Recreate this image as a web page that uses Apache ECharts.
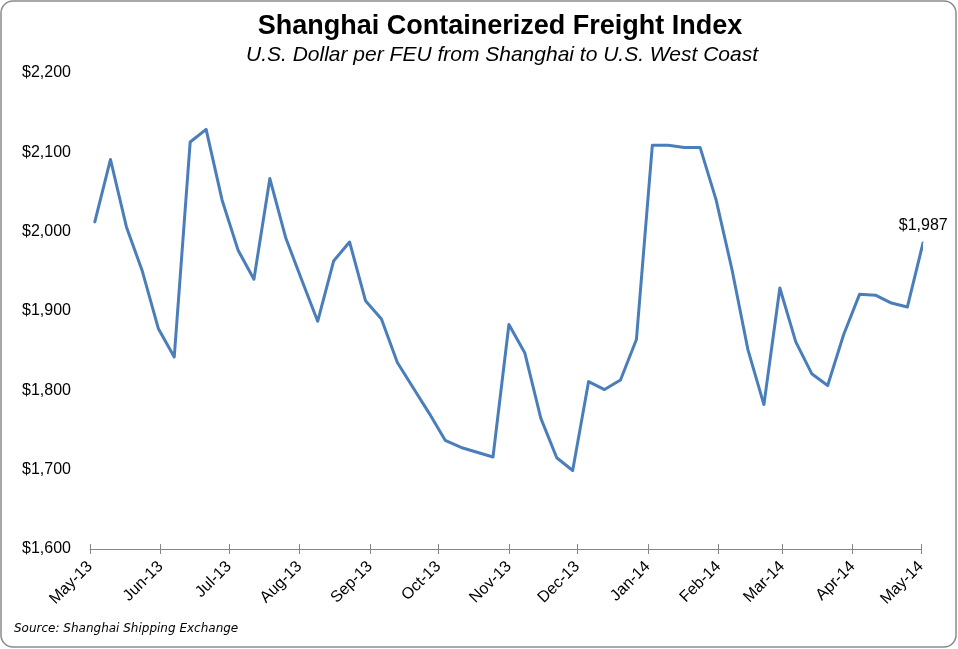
<!DOCTYPE html>
<html>
<head>
<meta charset="utf-8">
<script src="https://cdn.jsdelivr.net/npm/echarts@6/dist/echarts.min.js"></script>
<style>
html,body{margin:0;padding:0;background:#fff;}
#chart{width:958px;height:649px;}
</style>
</head>
<body>
<div id="chart"></div>
<script>
// Weekly observation dates (Fridays)
var dates = [
  '2013-05-03','2013-05-10','2013-05-17','2013-05-24','2013-05-31',
  '2013-06-07','2013-06-14','2013-06-21','2013-06-28',
  '2013-07-05','2013-07-12','2013-07-19','2013-07-26',
  '2013-08-02','2013-08-09','2013-08-16','2013-08-23','2013-08-30',
  '2013-09-06','2013-09-13','2013-09-20','2013-09-27',
  '2013-10-04','2013-10-11','2013-10-18','2013-10-25',
  '2013-11-01','2013-11-08','2013-11-15','2013-11-22','2013-11-29',
  '2013-12-06','2013-12-13','2013-12-20','2013-12-27',
  '2014-01-03','2014-01-10','2014-01-17','2014-01-24','2014-01-31',
  '2014-02-07','2014-02-14','2014-02-21','2014-02-28',
  '2014-03-07','2014-03-14','2014-03-21','2014-03-28',
  '2014-04-04','2014-04-11','2014-04-18','2014-04-25',
  '2014-05-02'
];
// SCFI, USD per FEU Shanghai -> US West Coast
var values = [
  2011, 2091, 2006, 1950, 1878,
  1842, 2113, 2129, 2040,
  1977, 1940, 2067, 1992,
  1939, 1887, 1963, 1987, 1913,
  1890, 1835, 1803, 1771,
  1737, 1728, 1722, 1716,
  1883, 1847, 1765, 1715, 1699,
  1811, 1801, 1813, 1864,
  2109, 2109, 2106, 2106, 2040,
  1952, 1851, 1782, 1929,
  1861, 1821, 1806, 1870,
  1921, 1920, 1910, 1905,
  1987
];
var monthNames = ['Jan','Feb','Mar','Apr','May','Jun','Jul','Aug','Sep','Oct','Nov','Dec'];
var axisStart = '2013-05-01';
var axisEnd = '2014-05-01';
var yMin = 1600, yMax = 2200, yStep = 100;
var titleText = 'Shanghai Containerized Freight Index';
var subtitleText = 'U.S. Dollar per FEU from Shanghai to U.S. West Coast';
var sourceText = 'Source: Shanghai Shipping Exchange';

function toTime(s){ var p = s.split('-'); return new Date(+p[0], +p[1]-1, +p[2]).getTime(); }
function money(v){ return '$' + Number(v).toLocaleString('en-US'); }

var FONT = 'Liberation Sans';
var seriesData = dates.map(function(d, i){
  var item = { value: [toTime(d), values[i]] };
  if (i === dates.length - 1) {
    item.label = { show: true, position: 'top', distance: 8, formatter: money(values[i]),
      fontFamily: FONT, fontSize: 16, color: '#000' };
  }
  return item;
});

var MONTH = 30 * 86400000;
function timeAxis(extra){
  var base = {
    type: 'time', gridIndex: 0, position: 'bottom',
    min: toTime(axisStart), max: toTime(axisEnd),
    minInterval: MONTH, maxInterval: MONTH,
    splitLine: { show: false }
  };
  for (var k in extra) base[k] = extra[k];
  return base;
}

var chart = echarts.init(document.getElementById('chart'), null, { renderer: 'canvas' });
chart.setOption({
  animation: false,
  backgroundColor: '#fff',
  grid: { left: 90, right: 37, top: 73, bottom: 100, containLabel: false },
  xAxis: [
    timeAxis({
      axisLine: { show: true, lineStyle: { color: '#868686', width: 1 } },
      axisTick: { show: true, length: 5, lineStyle: { color: '#868686' } },
      axisLabel: {
        show: true, rotate: 45, margin: 15,
        fontFamily: FONT, fontSize: 16, color: '#000',
        showMinLabel: true, showMaxLabel: true, hideOverlap: false,
        formatter: function(v){
          var d = new Date(v);
          return monthNames[d.getMonth()] + '-' + String(d.getFullYear()).slice(2);
        }
      }
    }),
    timeAxis({
      axisLine: { show: false },
      axisTick: { show: true, inside: true, length: 5, lineStyle: { color: '#868686' } },
      axisLabel: { show: false }
    })
  ],
  yAxis: {
    type: 'value', min: yMin, max: yMax, interval: yStep,
    axisLine: { show: false }, axisTick: { show: false },
    splitLine: { show: false },
    axisLabel: { margin: 19, fontFamily: FONT, fontSize: 16, color: '#000',
      formatter: function(v){ return money(v); } }
  },
  series: [{
    type: 'line', xAxisIndex: 0, yAxisIndex: 0,
    data: seriesData,
    showSymbol: true, symbol: 'circle', symbolSize: 1,
    lineStyle: { color: '#4A7EBB', width: 3, join: 'round' },
    itemStyle: { color: '#4A7EBB' },
    clip: false
  }],
  graphic: [
    { type: 'rect', silent: true, z: -1,
      shape: { x: 1, y: 1, width: 955, height: 646, r: 12 },
      style: { fill: 'none', stroke: '#8a8a8a', lineWidth: 1.5 } },
    { type: 'text', x: 500, y: 27,
      style: { text: titleText, fontFamily: FONT, fontWeight: 'bold', fontSize: 27,
        fill: '#000', textAlign: 'center', textVerticalAlign: 'middle' } },
    { type: 'text', x: 502, y: 55,
      style: { text: subtitleText, fontFamily: FONT, fontStyle: 'italic', fontSize: 21,
        fill: '#000', textAlign: 'center', textVerticalAlign: 'middle' } },
    { type: 'text', x: 14, y: 629,
      style: { text: sourceText, fontFamily: 'DejaVu Sans', fontStyle: 'italic', fontSize: 12,
        fill: '#000', textAlign: 'left', textVerticalAlign: 'middle' } }
  ]
});
</script>
</body>
</html>
